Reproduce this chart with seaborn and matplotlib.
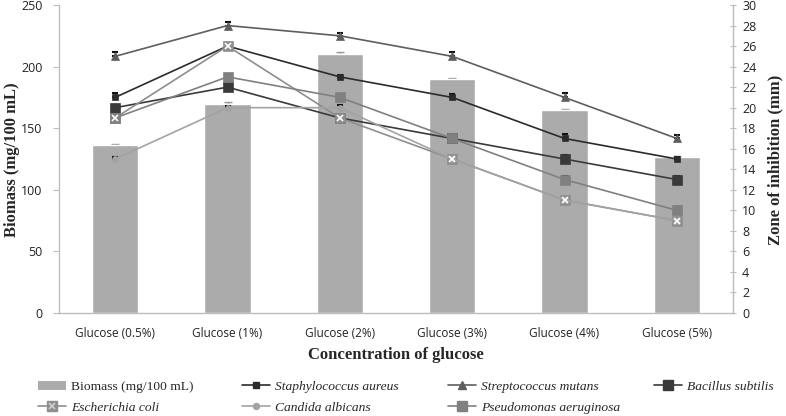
import matplotlib
matplotlib.use("Agg")
import matplotlib.pyplot as plt
import seaborn as sns
import numpy as np
import pandas as pd
from matplotlib.patches import Patch
from matplotlib.lines import Line2D

categories = ["Glucose (0.5%)", "Glucose (1%)", "Glucose (2%)", "Glucose (3%)", "Glucose (4%)", "Glucose (5%)"]
biomass = [136, 170, 210, 190, 165, 127]
biomass_err = [1.0, 1.0, 1.5, 1.0, 0.5, 0.5]

staph = [21, 26, 23, 21, 17, 15]
staph_err = [0.4, 0.3, 0.2, 0.3, 0.4, 0.2]
strep = [25, 28, 27, 25, 21, 17]
strep_err = [0.4, 0.3, 0.3, 0.4, 0.4, 0.3]
bacillus = [20, 22, 19, 17, 15, 13]
bacillus_err = [0.3, 0.3, 0.3, 0.3, 0.4, 0.3]
ecoli = [19, 26, 19, 15, 11, 9]
ecoli_err = [0.3, 0.3, 0.3, 0.3, 0.3, 0.2]
candida = [15, 20, 20, 15, 11, 9]
candida_err = [0.2, 0.2, 0.3, 0.2, 0.2, 0.2]
pseudo = [19, 23, 21, 17, 13, 10]
pseudo_err = [0.3, 0.3, 0.3, 0.3, 0.3, 0.3]

# name, values, errors, line colour, marker, marker size, overlay marker
series = [
    ("Staphylococcus aureus", staph, staph_err, "#2b2b2b", "s", 4.5, None),
    ("Streptococcus mutans", strep, strep_err, "#5e5e5e", "^", 6, None),
    ("Bacillus subtilis", bacillus, bacillus_err, "#3a3a3a", "s", 7.2, None),
    ("Escherichia coli", ecoli, ecoli_err, "#8e8e8e", "s", 6.5, "x"),
    ("Candida albicans", candida, candida_err, "#a3a3a3", "o", 4.3, None),
    ("Pseudomonas aeruginosa", pseudo, pseudo_err, "#808080", "s", 6.5, None),
]

sns.set_style("white")
plt.rcParams["font.family"] = ["Liberation Serif", "DejaVu Serif"]

fig = plt.figure(figsize=(7.86, 4.16), dpi=100)
ax = fig.add_axes([59/786, 1-313/416, (733-59)/786, (313-5)/416])

bar_df = pd.DataFrame({"cat": categories, "biomass": biomass})
sns.barplot(data=bar_df, x="cat", y="biomass", order=categories, color="#ababab",
            saturation=1, width=0.41, ax=ax, errorbar=None, zorder=1)
ax.errorbar(np.arange(len(categories)), biomass, yerr=[np.zeros(6), biomass_err],
            fmt="none", ecolor="#9a9a9a", elinewidth=0.8, capsize=3, zorder=0.5)

ax.set_ylim(0, 250)
ax.set_yticks(range(0, 251, 50))
ax.set_xlim(-0.5, 5.5)

ax2 = ax.twinx()
for name, vals, err, col, mk, ms, over in series:
    df = pd.DataFrame({"cat": categories, "v": vals})
    ax2.errorbar(categories, vals, yerr=[np.zeros(6), err], fmt="none",
                 ecolor="#111111", elinewidth=1.0, capsize=2.5, capthick=1.5, zorder=2)
    sns.lineplot(data=df, x="cat", y="v", ax=ax2, color=col, linewidth=1.2,
                 marker=mk, markersize=ms, markeredgecolor=col, markeredgewidth=0.5,
                 markerfacecolor=col, errorbar=None, sort=False, zorder=3)
    if over:
        sns.lineplot(data=df, x="cat", y="v", ax=ax2, color="#d0d0d0", linestyle="none",
                     marker=over, markersize=ms * 0.7, markeredgewidth=1.2,
                     errorbar=None, sort=False, zorder=4)
ax2.set_ylim(0, 30)
ax2.set_yticks(range(0, 31, 2))
ax2.set_xlim(-0.5, 5.5)

for a in (ax, ax2):
    for s in a.spines.values():
        s.set_visible(False)
    a.set_xlabel("")
    a.set_ylabel("")
ax.spines["left"].set_visible(True)
ax.spines["bottom"].set_visible(True)
ax2.spines["right"].set_visible(True)
for s in (ax.spines["left"], ax.spines["bottom"], ax2.spines["right"]):
    s.set_color("#bdbdbd")
    s.set_linewidth(1.0)

ax.tick_params(axis="y", length=4, color="#bdbdbd", pad=8)
ax.tick_params(axis="x", length=0, pad=10)
ax2.tick_params(axis="y", length=5, color="#bdbdbd", direction="inout", pad=4)
for lab in ax.get_xticklabels():
    lab.set_fontfamily(["Open Sans", "DejaVu Sans"])
    lab.set_fontsize(8.5)
    lab.set_color("#222222")
for lab in ax.get_yticklabels() + ax2.get_yticklabels():
    lab.set_fontfamily(["Open Sans", "DejaVu Sans"])
    lab.set_fontsize(9)
    lab.set_color("#222222")

fig.text(12/786, 1-160/416, "Biomass (mg/100 mL)", rotation=90, ha="center", va="center",
         fontsize=12, fontweight="bold")
fig.text(775/786, 1-160/416, "Zone of inhibition (mm)", rotation=90, ha="center", va="center",
         fontsize=12, fontweight="bold")
fig.text(396/786, 1-355/416, "Concentration of glucose", ha="center", va="center",
         fontsize=12, fontweight="bold")

handles = {}
handles["Biomass (mg/100 mL)"] = Patch(facecolor="#ababab", edgecolor="none")
for name, vals, err, col, mk, ms, over in series:
    h = Line2D([], [], color=col, linewidth=1.2, marker=mk, markersize=ms,
               markerfacecolor=col, markeredgecolor=col)
    if over:
        h = (h, Line2D([], [], color="#d0d0d0", linestyle="none", marker=over,
                       markersize=ms * 0.7, markeredgewidth=1.2))
    handles[name] = h

columns = [
    (31, ["Biomass (mg/100 mL)", "Escherichia coli"]),
    (235, ["Staphylococcus aureus", "Candida albicans"]),
    (441, ["Streptococcus mutans", "Pseudomonas aeruginosa"]),
    (647, ["Bacillus subtilis"]),
]
for x0, names in columns:
    leg = fig.legend([handles[k] for k in names], names, loc="upper left",
                     bbox_to_anchor=(x0/786, 1-374/416), frameon=False, borderpad=0,
                     fontsize=9.7, handlelength=2.1, handletextpad=0.35,
                     labelspacing=0.6)
    for t in leg.get_texts():
        if t.get_text() != "Biomass (mg/100 mL)":
            t.set_fontstyle("italic")

fig.savefig("out.png", dpi=100)
